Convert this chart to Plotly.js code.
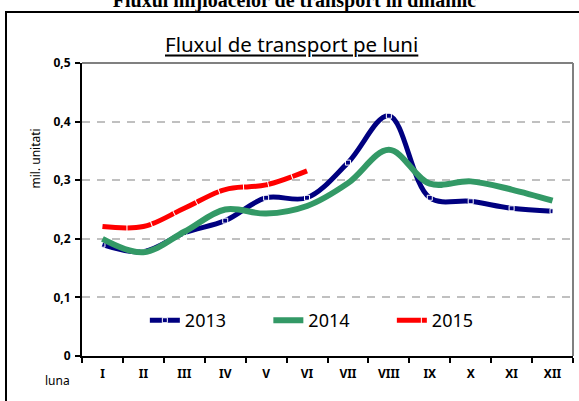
<!DOCTYPE html>
<html>
<head>
<meta charset="utf-8">
<script src="https://cdn.plot.ly/plotly-3.0.1.min.js"></script>
<style>
  html, body { margin: 0; padding: 0; background: #fff; width: 579px; height: 401px; overflow: hidden; }
  #frame { position: absolute; left: 5px; top: 11px; width: 620px; height: 440px; border: 2px solid #000; box-sizing: border-box; }
  #toptitle { position: absolute; left: 0; width: 589px; top: -10px; text-align: center; font-family: "Liberation Serif", serif; font-weight: bold; font-size: 20px; line-height: 20px; color: #000; white-space: nowrap; }
  #chart { position: absolute; left: 0; top: 0; width: 579px; height: 401px; }
</style>
</head>
<body>
<div id="toptitle">Fluxul mijloacelor de transport în dinamic</div>
<div id="frame"></div>
<div id="chart"></div>
<script>
// ---- data ----
const months = ['I','II','III','IV','V','VI','VII','VIII','IX','X','XI','XII'];
const v2013 = [0.19, 0.178, 0.21, 0.231, 0.27, 0.27, 0.33, 0.41, 0.27, 0.264, 0.252, 0.247];
const v2014 = [0.20, 0.177, 0.212, 0.25, 0.243, 0.256, 0.295, 0.352, 0.294, 0.298, 0.284, 0.265];
const months2015 = ['I','II','III','IV','V','VI'];
const v2015 = [0.221, 0.221, 0.252, 0.284, 0.292, 0.316];
const yTickVals = [0, 0.1, 0.2, 0.3, 0.4, 0.5];
const yTickText = ['0', '0,1', '0,2', '0,3', '0,4', '0,5'];

const FONT = 'Noto Sans, Open Sans, sans-serif';

const traces = [
  { x: months, y: v2013, name: '2013', type: 'scatter', mode: 'lines+markers',
    line: { color: '#000080', width: 5, shape: 'spline', smoothing: 1 },
    marker: { symbol: 'square-open', size: 5, color: '#ffffff', line: { color: '#ffffff', width: 1 } } },
  { x: months, y: v2014, name: '2014', type: 'scatter', mode: 'lines',
    line: { color: '#339966', width: 6, shape: 'spline', smoothing: 1 } },
  { x: months2015, y: v2015, name: '2015', type: 'scatter', mode: 'lines',
    line: { color: '#ff0000', width: 5, shape: 'spline', smoothing: 1, dash: '24px,1px' } }
];

const layout = {
  width: 579, height: 401,
  margin: { l: 82, r: 6, t: 63, b: 45 },
  paper_bgcolor: 'rgba(0,0,0,0)',
  plot_bgcolor: 'rgba(0,0,0,0)',
  font: { family: FONT, color: '#000' },
  showlegend: true,
  title: {
    text: 'Fluxul de transport pe luni',
    font: { family: FONT, size: 20.5, color: '#000', lineposition: 'under' },
    xref: 'paper', x: 0.427, xanchor: 'center',
    yref: 'container', y: 0.887, yanchor: 'middle'
  },
  xaxis: {
    type: 'category', categoryorder: 'array', categoryarray: months,
    range: [-0.5, 11.5], fixedrange: true,
    showgrid: false, zeroline: false,
    showline: true, linecolor: '#000', linewidth: 2,
    ticks: 'outside', tickson: 'boundaries', ticklen: 5, tickwidth: 2, tickcolor: '#000',
    tickfont: { family: FONT, size: 12, color: '#000', weight: 'bold' },
    ticklabelstandoff: 6
  },
  yaxis: {
    range: [0, 0.5], fixedrange: true,
    tickvals: yTickVals, ticktext: yTickText,
    showgrid: true, gridcolor: '#c0c0c0', gridwidth: 2, griddash: '8px,7px',
    zeroline: false,
    showline: true, linecolor: '#000', linewidth: 2,
    ticks: 'outside', ticklen: 5, tickwidth: 2, tickcolor: '#000',
    tickfont: { family: FONT, size: 12, color: '#000', weight: 'bold' },
    ticklabelstandoff: 2
  },
  legend: {
    orientation: 'h', x: 0.128, xanchor: 'left', y: 0.121, yanchor: 'middle',
    bgcolor: 'rgba(0,0,0,0)', borderwidth: 0,
    font: { family: FONT, size: 18, color: '#000' },
    entrywidth: 78.5, entrywidthmode: 'pixels'
  },
  shapes: [
    { type: 'line', xref: 'paper', yref: 'paper', x0: 0, x1: 1, y0: 1, y1: 1, line: { color: '#808080', width: 2 } },
    { type: 'line', xref: 'paper', yref: 'paper', x0: 1, x1: 1, y0: 0, y1: 1, line: { color: '#808080', width: 2 } }
  ],
  annotations: [
    { text: 'luna', xref: 'paper', yref: 'paper', x: -0.049, y: -0.082, xanchor: 'center', yanchor: 'middle',
      showarrow: false, font: { family: FONT, size: 12, color: '#000' } },
    { text: 'mil. unitati', xref: 'paper', yref: 'paper', x: -0.0943, y: 0.673, xanchor: 'center', yanchor: 'middle',
      textangle: -90, showarrow: false, font: { family: FONT, size: 12, color: '#000' } }
  ]
};

Plotly.newPlot('chart', traces, layout, { displayModeBar: false, staticPlot: true });
</script>
</body>
</html>
